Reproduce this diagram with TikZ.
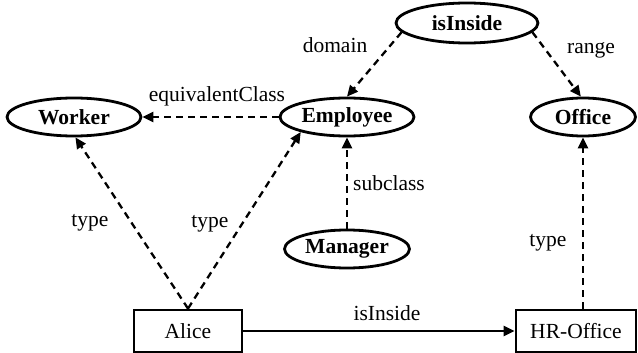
\documentclass[tikz,border=0pt]{standalone}
\usepackage{fontspec}
\setmainfont{Liberation Serif}
\usetikzlibrary{shapes.geometric,arrows.meta}
\begin{document}
\begin{tikzpicture}[x=1pt,y=-1pt,
  font=\fontsize{21.5}{24}\selectfont,
  cls/.style={ellipse,draw,line width=2.8pt,inner sep=0pt,font=\fontsize{21.5}{24}\selectfont\bfseries},
  inst/.style={rectangle,draw,line width=2.8pt,inner sep=0pt},
  rel/.style={dash pattern=on 7pt off 5pt,line width=2.3pt,-{Triangle[length=11pt,width=10pt]}},
  link/.style={line width=2.3pt,-{Triangle[length=11pt,width=10pt]}},
  lbl/.style={inner sep=0pt}]
\useasboundingbox (0,0) rectangle (638,353);
% classes and property
\node[cls,minimum width=134pt,minimum height=38pt] (worker) at (74,117) {Worker};
\node[cls,minimum width=134pt,minimum height=38pt] (employee) at (347,117) {Employee};
\node[cls,minimum width=142pt,minimum height=40pt] (isinside) at (467,23) {isInside};
\node[cls,minimum width=105pt,minimum height=38pt] (office) at (583,117) {Office};
\node[cls,minimum width=125pt,minimum height=38pt] (manager) at (347,249) {Manager};
% individuals
\node[inst,minimum width=108pt,minimum height=42pt] (alice) at (188,331) {Alice};
\node[inst,minimum width=120pt,minimum height=42pt] (hroffice) at (576,331) {HR-Office};
% schema edges
\draw[rel] (employee.west) -- (worker.east);
\draw[rel] (isinside.188) -- (employee.north);
\draw[rel] (isinside.-8) -- (office.96);
\draw[rel] (manager.north) -- (employee.south);
% instance edges
\draw[rel] (alice.north) -- (worker.-86);
\draw[rel] (alice.north) -- (employee.198);
\draw[rel] (hroffice.north -| office.south) -- (office.south);
\draw[link] (alice.east) -- (hroffice.west);
% edge labels
\node[lbl] (l1) at (217,96) {equivalentClass};
\node[lbl] (l2) at (335,45) {domain};
\node[lbl] (l3) at (591,50) {range};
\node[lbl] (l4) at (389,183) {subclass};
\node[lbl] (l5) at (90,223) {type};
\node[lbl] (l6) at (210,224) {type};
\node[lbl] (l7) at (548,243) {type};
\node[lbl] (l8) at (387,313) {isInside};
\end{tikzpicture}
\end{document}
